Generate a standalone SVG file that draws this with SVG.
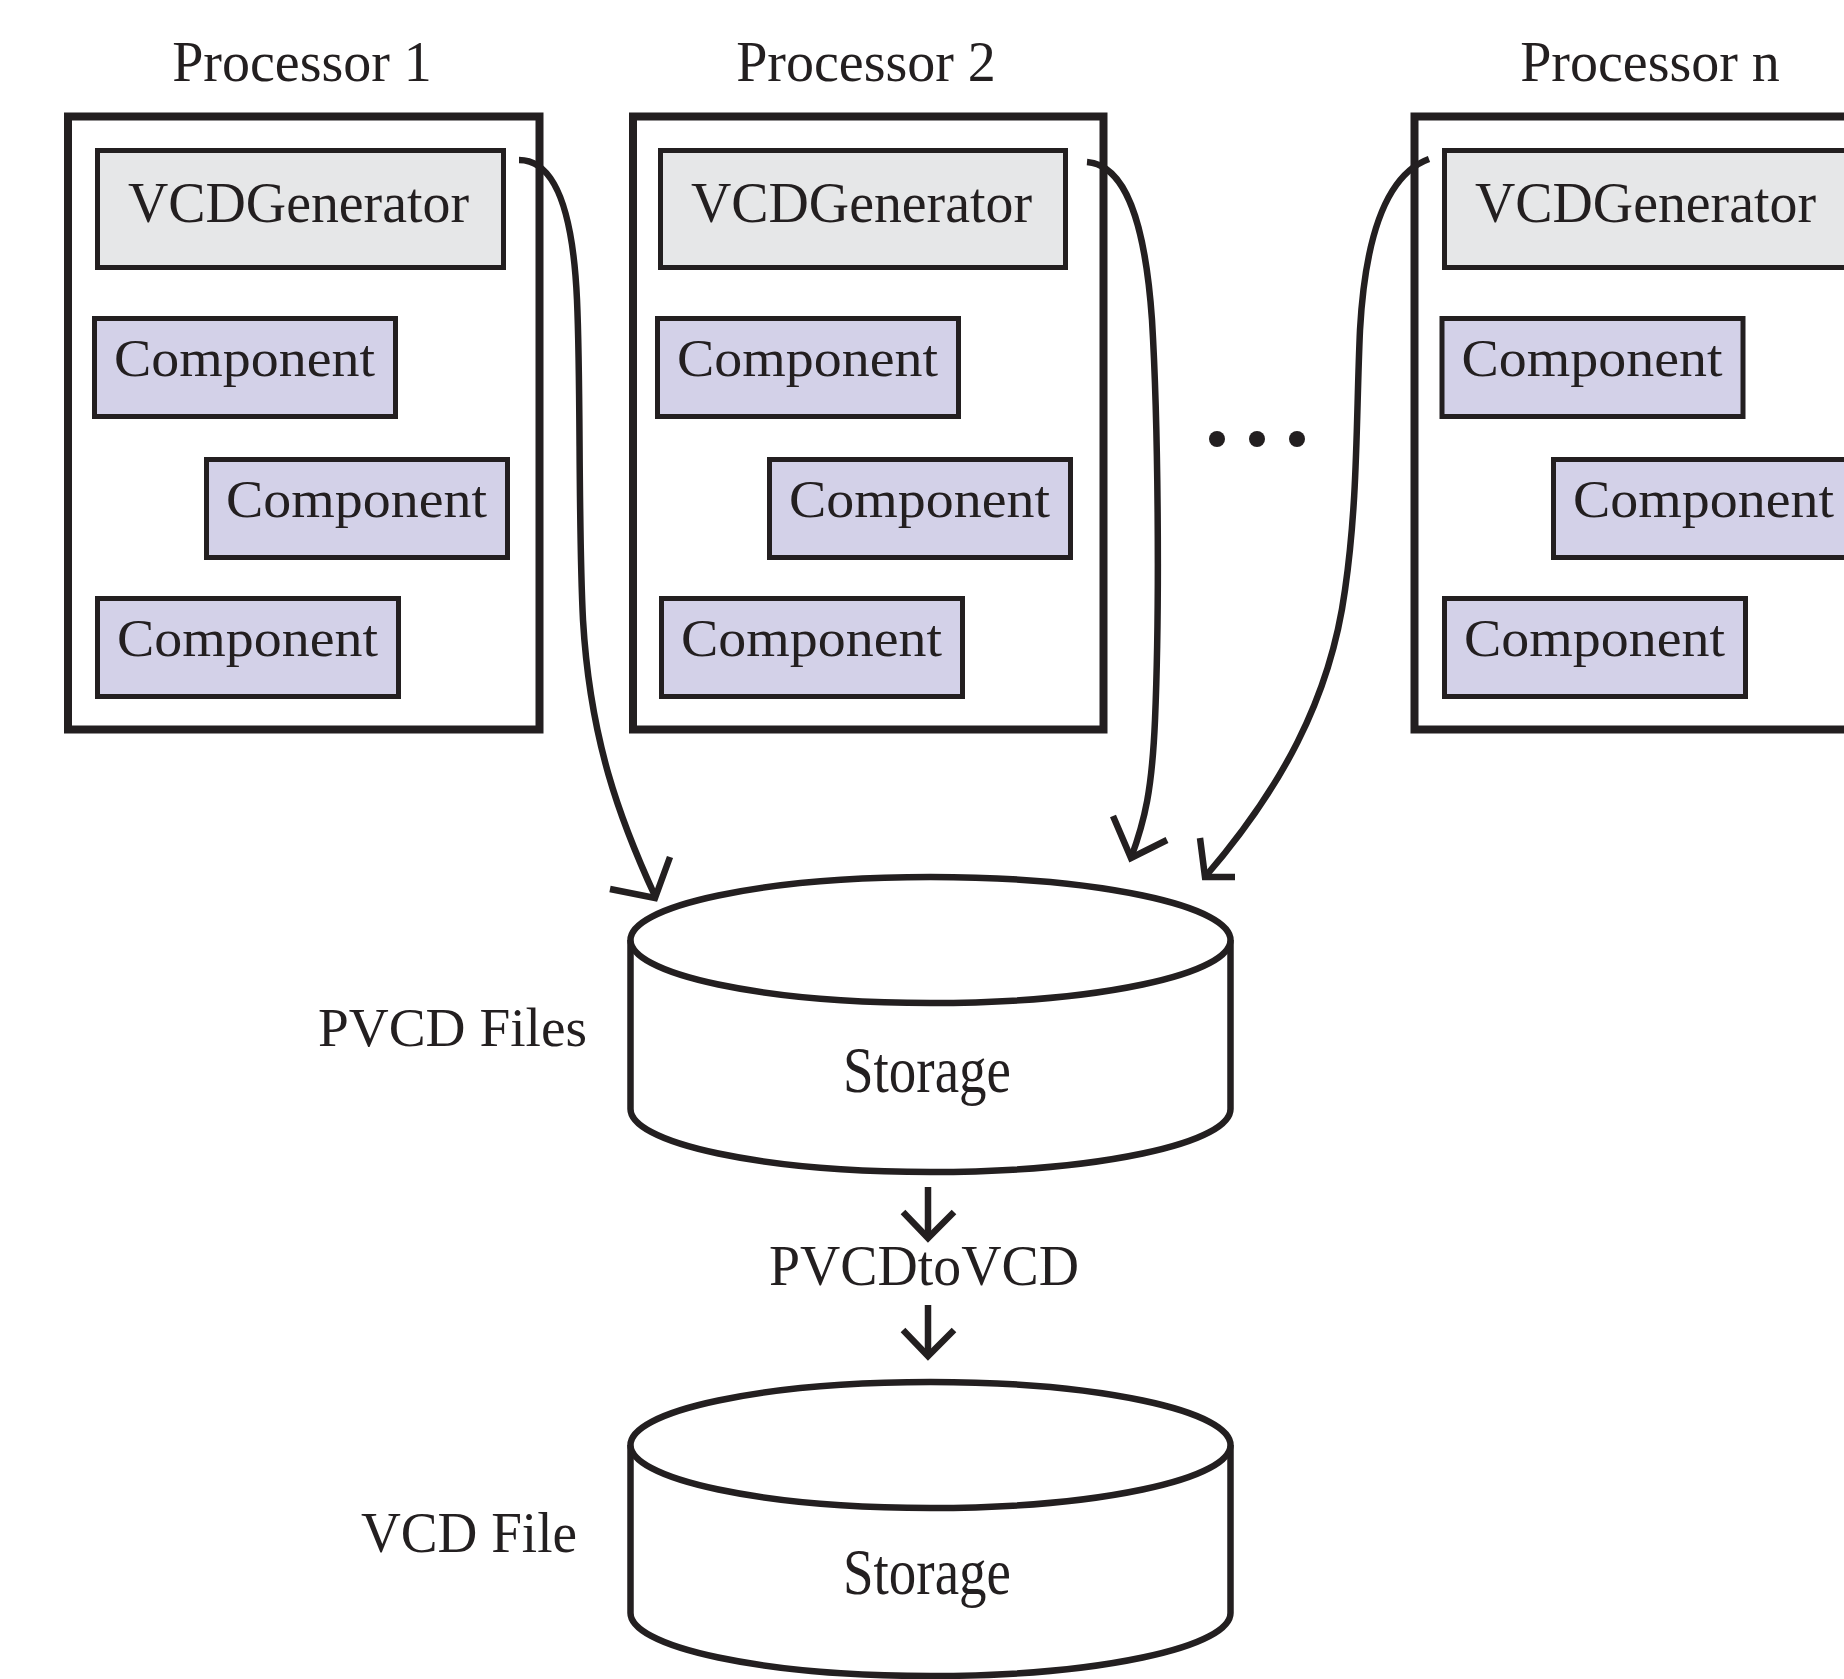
<svg xmlns="http://www.w3.org/2000/svg" width="1844" height="1679" viewBox="0 0 1844 1679">
  <style>
    .lbl { font-family: "Liberation Serif", "Times New Roman", serif; fill: #231f20; }
    .title { font-size: 56px; text-anchor: middle; }
    .proc { fill: #ffffff; stroke: #231f20; stroke-width: 8; }
    .gen { fill: #e6e7e8; stroke: #231f20; stroke-width: 5; }
    .comp { fill: #d3d1e8; stroke: #231f20; stroke-width: 5; }
    .gentext { font-size: 56px; }
    .comptext { font-size: 52px; }
    .db { fill: #ffffff; stroke: #231f20; stroke-width: 6.5; }
    .wire { fill: none; stroke: #231f20; stroke-width: 6.5; }
    .head { fill: none; stroke: #231f20; stroke-width: 6.5; stroke-linejoin: miter; }
    .dot { fill: #231f20; }
  </style>
  <defs>
    <g id="component-box">
      <rect class="comp" x="0" y="0" width="301" height="98"/>
      <text class="lbl comptext" x="19.5" y="57.5" textLength="261" lengthAdjust="spacingAndGlyphs">Component</text>
    </g>
  </defs>

  <rect x="0" y="0" width="1844" height="1679" fill="#ffffff"/>

  <!-- Processor 1 -->
  <g id="processor-1">
    <text class="lbl title" x="302" y="81">Processor 1</text>
    <rect class="proc" x="68" y="116.5" width="471.5" height="613"/>
    <g id="vcdgen-1">
      <rect class="gen" x="97.5" y="150.5" width="406" height="117"/>
      <text class="lbl gentext" x="128" y="222" textLength="341" lengthAdjust="spacingAndGlyphs">VCDGenerator</text>
    </g>
    <use id="p1-comp-a" href="#component-box" x="94.5" y="318.5"/>
    <use id="p1-comp-b" href="#component-box" x="206.5" y="459.5"/>
    <use id="p1-comp-c" href="#component-box" x="97.5" y="598.5"/>
  </g>

  <!-- Processor 2 -->
  <g id="processor-2">
    <text class="lbl title" x="866" y="81">Processor 2</text>
    <rect class="proc" x="633" y="116.5" width="470.5" height="613"/>
    <g id="vcdgen-2">
      <rect class="gen" x="660.5" y="150.5" width="405" height="117"/>
      <text class="lbl gentext" x="691" y="222" textLength="341" lengthAdjust="spacingAndGlyphs">VCDGenerator</text>
    </g>
    <use id="p2-comp-a" href="#component-box" x="657.5" y="318.5"/>
    <use id="p2-comp-b" href="#component-box" x="769.5" y="459.5"/>
    <use id="p2-comp-c" href="#component-box" x="661.5" y="598.5"/>
  </g>

  <!-- ellipsis between processors -->
  <g id="ellipsis">
    <circle class="dot" cx="1217" cy="439" r="8"/>
    <circle class="dot" cx="1257" cy="439" r="8"/>
    <circle class="dot" cx="1297" cy="439" r="8"/>
  </g>

  <!-- Processor n (runs off the right edge) -->
  <g id="processor-n">
    <text class="lbl title" x="1650" y="81">Processor n</text>
    <rect class="proc" x="1414.5" y="116.5" width="470" height="613"/>
    <g id="vcdgen-n">
      <rect class="gen" x="1444.5" y="150.5" width="404" height="117"/>
      <text class="lbl gentext" x="1475" y="222" textLength="341" lengthAdjust="spacingAndGlyphs">VCDGenerator</text>
    </g>
    <use id="pn-comp-a" href="#component-box" x="1442" y="318.5"/>
    <use id="pn-comp-b" href="#component-box" x="1553.5" y="459.5"/>
    <use id="pn-comp-c" href="#component-box" x="1444.5" y="598.5"/>
  </g>

  <!-- PVCD storage -->
  <g id="pvcd-storage">
    <path class="db" d="M 630.5 940 L 630.5 1109 A 300 63 0 0 0 1230.5 1109 L 1230.5 940"/>
    <ellipse class="db" cx="930.5" cy="940" rx="300" ry="63"/>
    <text class="lbl" x="927" y="1092" font-size="66" text-anchor="middle" textLength="168" lengthAdjust="spacingAndGlyphs">Storage</text>
    <text class="lbl" x="318" y="1046" font-size="55.5" textLength="269" lengthAdjust="spacingAndGlyphs">PVCD Files</text>
  </g>

  <!-- conversion step -->
  <g id="pvcdtovcd">
    <text class="lbl" x="769" y="1285" font-size="57" textLength="310" lengthAdjust="spacingAndGlyphs">PVCDtoVCD</text>
  </g>

  <!-- VCD storage -->
  <g id="vcd-storage">
    <path class="db" d="M 630.5 1445 L 630.5 1613 A 300 63 0 0 0 1230.5 1613 L 1230.5 1445"/>
    <ellipse class="db" cx="930.5" cy="1445" rx="300" ry="63"/>
    <text class="lbl" x="927" y="1594" font-size="66" text-anchor="middle" textLength="168" lengthAdjust="spacingAndGlyphs">Storage</text>
    <text class="lbl" x="361" y="1552" font-size="57" textLength="216" lengthAdjust="spacingAndGlyphs">VCD File</text>
  </g>

  <!-- connectors -->
  <g id="connectors">
    <path class="wire" d="M 519 160 C 555 160 573 210 577 300 C 581 390 578 520 583 620 C 590 740 620 820 655 896"/>
    <polyline class="head" points="610,889 655,898 670,857"/>

    <path class="wire" d="M 1087 162 C 1125 165 1145 220 1152 320 C 1158 420 1160 600 1155 720 C 1152 790 1145 820 1131 858"/>
    <polyline class="head" points="1113,816 1131,858 1167,840"/>

    <path class="wire" d="M 1429 159 C 1385 175 1365 240 1360 330 C 1356 420 1358 500 1345 590 C 1330 700 1280 790 1205 877"/>
    <polyline class="head" points="1200,838 1205,877 1235,877"/>

    <line class="wire" x1="928" y1="1187" x2="928" y2="1238"/>
    <polyline class="head" points="903,1212 928,1238 954,1212"/>

    <line class="wire" x1="928" y1="1305" x2="928" y2="1356"/>
    <polyline class="head" points="903,1330 928,1356 954,1330"/>
  </g>
</svg>
